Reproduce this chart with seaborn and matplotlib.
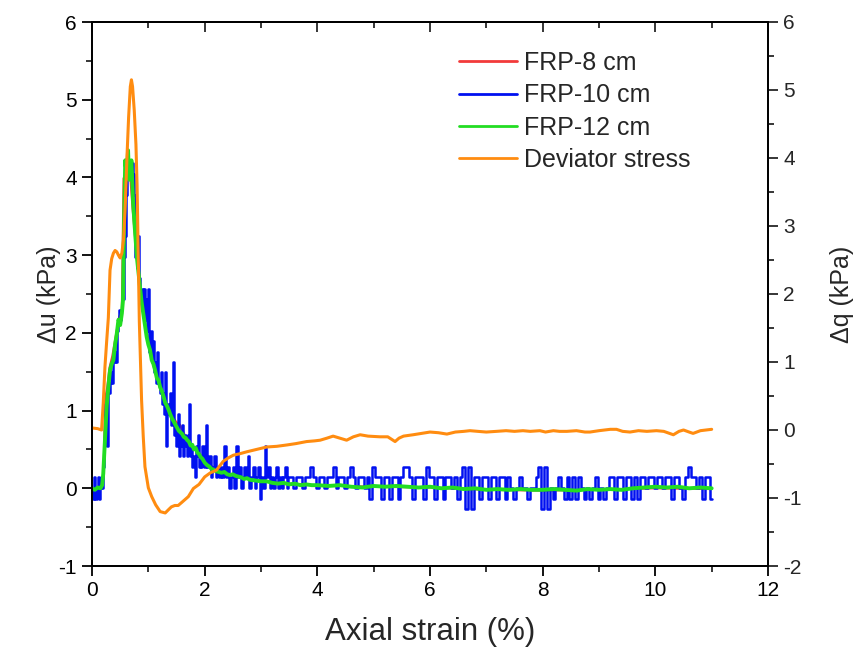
import matplotlib
matplotlib.use("Agg")
import matplotlib.pyplot as plt
import seaborn as sns
import numpy as np
from matplotlib.ticker import MultipleLocator

# ---------------- data ----------------
orange_strain = [0.00, 0.10, 0.17, 0.20, 0.23, 0.26, 0.29, 0.32, 0.35, 0.38, 0.41, 0.44, 0.47, 0.50,
                 0.53, 0.56, 0.59, 0.62, 0.65, 0.68, 0.70, 0.72, 0.75, 0.78, 0.80, 0.82, 0.84, 0.88,
                 0.91, 0.94, 1.00, 1.06, 1.13, 1.21, 1.30, 1.36, 1.41, 1.47, 1.53, 1.60, 1.71, 1.80,
                 1.90, 2.00, 2.10, 2.21, 2.33, 2.42, 2.51, 2.62, 2.75, 2.90, 3.10, 3.28, 3.46, 3.62,
                 3.81, 3.95, 4.05, 4.17, 4.28, 4.40, 4.52, 4.64, 4.76, 4.90, 5.11, 5.25, 5.38, 5.45,
                 5.53, 5.70, 5.85, 6.00, 6.15, 6.30, 6.45, 6.60, 6.71, 6.85, 7.00, 7.18, 7.35, 7.50,
                 7.65, 7.78, 7.95, 8.05, 8.19, 8.30, 8.43, 8.60, 8.75, 8.84, 9.00, 9.20, 9.31, 9.42,
                 9.55, 9.70, 9.85, 10.02, 10.15, 10.32, 10.42, 10.50, 10.60, 10.67, 10.80, 10.90, 11.00]
orange_dq = [0.03, 0.02, 0.00, 0.40, 0.93, 1.30, 1.65, 2.35, 2.52, 2.60, 2.64, 2.62, 2.57, 2.53,
             2.60, 2.80, 3.30, 4.00, 4.60, 5.05, 5.15, 5.05, 4.70, 4.20, 3.60, 2.60, 1.60, 0.44,
             -0.10, -0.54, -0.85, -0.98, -1.10, -1.20, -1.22, -1.17, -1.13, -1.11, -1.11, -1.06, -0.98, -0.86,
             -0.80, -0.69, -0.63, -0.59, -0.46, -0.41, -0.37, -0.35, -0.32, -0.29, -0.25, -0.24, -0.22, -0.20,
             -0.17, -0.16, -0.15, -0.12, -0.09, -0.12, -0.15, -0.10, -0.07, -0.09, -0.10, -0.10, -0.17, -0.12,
             -0.09, -0.07, -0.05, -0.03, -0.04, -0.06, -0.03, -0.02, -0.01, -0.02, -0.03, -0.02, -0.01, -0.02,
             -0.01, -0.02, -0.01, -0.03, -0.01, -0.02, -0.02, -0.01, -0.03, -0.03, -0.01, 0.01, 0.01, -0.02,
             -0.03, -0.01, -0.02, -0.01, -0.02, -0.07, -0.02, 0.00, -0.03, -0.05, -0.01, 0.00, 0.01]

green_strain = [0.00, 0.05, 0.10, 0.15, 0.18, 0.20, 0.23, 0.26, 0.29, 0.32, 0.35, 0.38, 0.41, 0.44,
                0.47, 0.50, 0.53, 0.55, 0.57, 0.59, 0.62, 0.64, 0.66, 0.68, 0.70, 0.73, 0.77, 0.80,
                0.82, 0.85, 0.88, 0.91, 0.94, 0.97, 1.00, 1.03, 1.06, 1.09, 1.12, 1.15, 1.18, 1.21,
                1.24, 1.27, 1.30, 1.33, 1.36, 1.39, 1.42, 1.45, 1.48, 1.51, 1.54, 1.57, 1.60, 1.63,
                1.66, 1.69, 1.72, 1.75, 1.78, 1.81, 1.84, 1.87, 1.90, 1.93, 1.96, 2.00, 2.04, 2.08,
                2.12, 2.16, 2.20, 2.25, 2.30, 2.35, 2.40, 2.45, 2.50, 2.55, 2.60, 2.65, 2.70, 2.75,
                2.80, 2.90, 3.00, 3.10, 3.20, 3.30, 3.40, 3.50, 3.60, 3.70, 3.80, 3.90, 4.00, 4.20,
                4.40, 4.60, 4.80, 5.00, 5.20, 5.40, 5.60, 5.80, 6.00, 6.20, 6.40, 6.60, 6.80, 7.00,
                7.20, 7.40, 7.60, 7.80, 8.00, 8.20, 8.40, 8.60, 8.80, 9.00, 9.20, 9.40, 9.60, 9.80,
                10.00, 10.20, 10.40, 10.60, 10.80, 11.00]
green_du = [0.00, -0.02, 0.01, 0.00, 0.04, 0.19, 0.62, 1.05, 1.30, 1.52, 1.60, 1.65, 1.85, 1.99,
            2.17, 2.10, 2.25, 2.42, 3.45, 4.22, 4.00, 4.35, 3.97, 4.10, 4.22, 3.67, 3.24, 2.95,
            2.81, 2.60, 2.40, 2.25, 2.10, 1.95, 1.85, 1.78, 1.65, 1.60, 1.52, 1.42, 1.39, 1.30,
            1.25, 1.18, 1.10, 1.06, 1.01, 0.95, 0.90, 0.86, 0.82, 0.78, 0.74, 0.72, 0.70, 0.66,
            0.65, 0.62, 0.60, 0.55, 0.56, 0.50, 0.52, 0.46, 0.44, 0.40, 0.38, 0.33, 0.30, 0.28,
            0.25, 0.24, 0.22, 0.21, 0.20, 0.21, 0.18, 0.17, 0.18, 0.16, 0.15, 0.14, 0.12, 0.13,
            0.11, 0.10, 0.09, 0.09, 0.07, 0.06, 0.07, 0.05, 0.06, 0.04, 0.05, 0.04, 0.04, 0.03,
            0.04, 0.02, 0.01, 0.03, 0.02, 0.03, 0.02, 0.01, 0.02, 0.00, 0.01, -0.01, 0.00, -0.02,
            -0.01, -0.02, -0.01, -0.02, -0.02, -0.01, -0.02, -0.03, -0.01, -0.02, -0.01, -0.02, 0.00, 0.01,
            0.02, 0.01, 0.02, 0.00, 0.01, 0.00]

red_strain = [0.00, 0.10, 0.18, 0.21, 0.23, 0.27, 0.31, 0.36, 0.42, 0.48, 0.53, 0.56, 0.60, 0.64,
              0.68, 0.72, 0.78, 0.85, 0.92, 1.00, 1.10, 1.20, 1.30, 1.40, 1.50, 1.56, 1.65, 1.75,
              1.85, 2.00, 2.20, 2.40, 2.60, 2.80, 3.00, 3.50, 4.00, 5.00, 6.00, 7.00, 8.00, 9.00,
              10.00, 11.00]
red_du = [0.00, 0.00, 0.02, 0.30, 1.14, 1.30, 1.55, 1.70, 1.95, 2.20, 2.30, 3.99, 4.00, 4.20,
          4.00, 3.60, 3.10, 2.55, 2.20, 1.90, 1.55, 1.30, 1.10, 0.95, 0.85, 0.82, 0.68, 0.57,
          0.50, 0.36, 0.24, 0.19, 0.15, 0.12, 0.09, 0.06, 0.04, 0.02, 0.01, -0.02, -0.03, -0.02,
          0.00, -0.01]

blue_strain = [0.00, 0.03, 0.05, 0.07, 0.09, 0.11, 0.13, 0.15, 0.17, 0.19, 0.21, 0.22, 0.24, 0.26,
               0.28, 0.30, 0.33, 0.35, 0.37, 0.39, 0.41, 0.43, 0.45, 0.47, 0.49, 0.51, 0.53, 0.55,
               0.57, 0.59, 0.61, 0.63, 0.66, 0.68, 0.71, 0.73, 0.75, 0.77, 0.79, 0.81, 0.83, 0.85,
               0.87, 0.89, 0.91, 0.93, 0.95, 0.97, 0.99, 1.01, 1.03, 1.05, 1.07, 1.09, 1.11, 1.13,
               1.15, 1.17, 1.19, 1.21, 1.23, 1.25, 1.27, 1.29, 1.31, 1.33, 1.35, 1.37, 1.39, 1.41,
               1.43, 1.45, 1.47, 1.49, 1.51, 1.53, 1.55, 1.57, 1.59, 1.61, 1.63, 1.65, 1.67, 1.69,
               1.71, 1.73, 1.75, 1.77, 1.79, 1.81, 1.83, 1.85, 1.87, 1.89, 1.91, 1.93, 1.95, 1.97,
               2.00, 2.03, 2.06, 2.09, 2.12, 2.15, 2.18, 2.21, 2.24, 2.27, 2.30, 2.33, 2.36, 2.39,
               2.42, 2.45, 2.48, 2.51, 2.54, 2.57, 2.60, 2.63, 2.66, 2.69, 2.72, 2.75, 2.78, 2.81,
               2.84, 2.87, 2.90, 2.93, 2.96, 2.99, 3.02, 3.05, 3.08, 3.11, 3.14, 3.17, 3.20, 3.23,
               3.26, 3.29, 3.32, 3.35, 3.38, 3.41, 3.44, 3.47, 3.50,
               3.55, 3.60, 3.65, 3.70, 3.75, 3.80, 3.85, 3.90, 3.95, 4.00,
               4.05, 4.10, 4.15, 4.20, 4.25, 4.30, 4.35, 4.40, 4.45, 4.50,
               4.55, 4.60, 4.65, 4.70, 4.75, 4.80, 4.85, 4.90, 4.95, 5.00,
               5.05, 5.10, 5.15, 5.20, 5.25, 5.30, 5.35, 5.40, 5.45, 5.50,
               5.55, 5.60, 5.65, 5.70, 5.75, 5.80, 5.85, 5.90, 5.95, 6.00,
               6.05, 6.10, 6.15, 6.20, 6.25, 6.30, 6.35, 6.40, 6.45, 6.50,
               6.55, 6.60, 6.65, 6.70, 6.75, 6.80, 6.85, 6.90, 6.95, 7.00,
               7.05, 7.10, 7.15, 7.20, 7.25, 7.30, 7.35, 7.40, 7.45, 7.50,
               7.55, 7.60, 7.65, 7.70, 7.75, 7.80, 7.85, 7.90, 7.95, 8.00,
               8.05, 8.10, 8.15, 8.20, 8.25, 8.30, 8.35, 8.40, 8.45, 8.50,
               8.55, 8.60, 8.65, 8.70, 8.75, 8.80, 8.85, 8.90, 8.95, 9.00,
               9.05, 9.10, 9.15, 9.20, 9.25, 9.30, 9.35, 9.40, 9.45, 9.50,
               9.55, 9.60, 9.65, 9.70, 9.75, 9.80, 9.85, 9.90, 9.95, 10.00,
               10.05, 10.10, 10.15, 10.20, 10.25, 10.30, 10.35, 10.40, 10.45, 10.50,
               10.55, 10.60, 10.65, 10.70, 10.75, 10.80, 10.85, 10.90, 10.95, 11.00]
blue_du = [0.00, -0.14, 0.14, -0.14, 0.00, 0.14, -0.14, 0.00, 0.14, 0.00, 0.27, 0.54, 1.08, 0.81,
           0.54, 1.22, 1.35, 1.49, 1.35, 1.62, 1.76, 1.62, 2.03, 2.16, 2.30, 2.16, 2.30, 2.43,
           2.97, 3.24, 3.78, 4.19, 4.05, 4.19, 4.19, 4.05, 3.78, 2.97, 3.24, 2.84, 3.24, 2.70,
           2.43, 2.57, 2.30, 2.57, 2.16, 2.43, 2.03, 2.57, 1.76, 2.03, 1.62, 1.89, 1.49, 1.62,
           1.35, 1.76, 1.35, 1.22, 1.49, 1.08, 1.22, 0.95, 1.49, 0.54, 1.08, 0.95, 1.22, 0.81,
           0.95, 1.62, 0.68, 0.81, 0.54, 0.95, 0.41, 0.68, 0.54, 0.81, 0.41, 0.68, 0.54, 0.41,
           0.68, 1.08, 0.41, 0.54, 0.27, 0.41, 0.14, 0.54, 0.41, 0.68, 0.27, 0.41, 0.27, 0.54,
           0.27, 0.81, 0.27, 0.41, 0.14, 0.27, 0.41, 0.14, 0.27, 0.14, 0.27, 0.14, 0.54, 0.14,
           0.27, 0.00, 0.14, 0.27, 0.00, 0.54, 0.14, 0.27, 0.00, 0.14, 0.27, 0.14, 0.41, 0.00,
           0.14, 0.27, 0.00, 0.14, 0.27, -0.14, 0.14, 0.00, 0.54, 0.14, 0.27, 0.00, 0.14, 0.00,
           0.14, 0.27, 0.00, 0.14, 0.00, 0.14, 0.27, 0.00, 0.14,
           0.14, 0.00, 0.14, 0.14, 0.00, 0.14, 0.14, 0.27, 0.14, 0.00,
           0.14, 0.14, 0.00, 0.14, 0.14, 0.27, 0.00, 0.14, 0.14, 0.00,
           0.14, 0.27, 0.14, 0.00, 0.14, 0.14, 0.00, 0.14, -0.14, 0.27,
           0.14, 0.14, -0.14, 0.14, 0.14, -0.14, 0.14, 0.14, -0.14, 0.14,
           0.27, 0.27, 0.14, -0.14, 0.14, 0.14, 0.14, -0.14, 0.27, 0.14,
           0.14, -0.14, 0.14, 0.14, -0.14, 0.14, 0.14, 0.00, 0.14, -0.14,
           0.14, 0.27, -0.27, 0.27, -0.27, 0.14, 0.14, -0.14, 0.14, 0.14,
           -0.14, 0.14, 0.14, -0.14, 0.14, 0.14, -0.14, 0.14, 0.00, -0.14,
           0.00, 0.14, 0.00, 0.00, -0.14, 0.00, 0.00, 0.14, 0.27, -0.27,
           0.27, -0.27, 0.00, -0.14, 0.00, 0.14, 0.00, -0.14, 0.14, -0.14,
           0.14, -0.14, 0.14, 0.00, -0.14, 0.00, -0.14, 0.00, 0.14, -0.14,
           0.00, -0.14, 0.00, 0.14, 0.14, -0.14, 0.14, 0.14, -0.14, 0.14,
           0.14, -0.14, 0.14, -0.14, 0.14, 0.14, 0.00, 0.14, 0.14, 0.00,
           0.14, 0.14, 0.00, 0.14, 0.14, -0.14, 0.14, 0.14, 0.00, -0.14,
           0.14, 0.27, 0.14, 0.14, 0.00, 0.14, -0.14, 0.14, 0.14, -0.14]

series_labels = ["FRP-8 cm", "FRP-10 cm", "FRP-12 cm", "Deviator stress"]
x_ticks = [0, 2, 4, 6, 8, 10, 12]
left_ticks = [-1, 0, 1, 2, 3, 4, 5, 6]
right_ticks = [-2, -1, 0, 1, 2, 3, 4, 5, 6]

# ---------------- style ----------------
sns.set_style("ticks")
plt.rcParams["font.family"] = ["Liberation Sans", "DejaVu Sans"]
plt.rcParams["axes.linewidth"] = 1.3
plt.rcParams["axes.unicode_minus"] = False

RED = "#F23A3A"
BLUE = "#0010F0"
GREEN = "#22DD22"
ORANGE = "#FF8C10"

fig = plt.figure(figsize=(8.54, 6.63), dpi=100)
ax = fig.add_axes([92 / 854, 1 - 566 / 663, (768 - 92) / 854, (566 - 22) / 663])
ax2 = ax.twinx()

sns.lineplot(x=red_strain, y=red_du, ax=ax, color=RED, lw=1.5, estimator=None, sort=False,
             label=series_labels[0], legend=False)
sns.lineplot(x=blue_strain, y=blue_du, ax=ax, color=BLUE, lw=1.8, estimator=None, sort=False,
             drawstyle="steps-mid", label=series_labels[1], legend=False)
sns.lineplot(x=green_strain, y=green_du, ax=ax, color=GREEN, lw=2.8, estimator=None, sort=False,
             label=series_labels[2], legend=False)
sns.lineplot(x=orange_strain, y=orange_dq, ax=ax2, color=ORANGE, lw=2.2, estimator=None, sort=False,
             label=series_labels[3], legend=False)

ax.set_xlim(0, 12)
ax.set_ylim(-1, 6)
ax2.set_ylim(-2, 6)
ax.set_xticks(x_ticks)
ax.set_yticks(left_ticks)
ax2.set_yticks(right_ticks)
ax.xaxis.set_minor_locator(MultipleLocator(1))
ax.yaxis.set_minor_locator(MultipleLocator(0.5))
ax2.yaxis.set_minor_locator(MultipleLocator(0.5))

for a in (ax, ax2):
    for s in a.spines.values():
        s.set_linewidth(1.3)
        s.set_color("black")

ax.tick_params(axis="both", which="major", direction="out", length=7, width=1.3, labelsize=15,
               colors="black", pad=4)
ax.tick_params(axis="both", which="minor", direction="out", length=4, width=1.3)
ax.tick_params(axis="y", left=True, right=False, which="both")
ax.tick_params(axis="x", bottom=True, top=False, which="both")
ax2.tick_params(axis="y", which="major", direction="out", length=7, width=1.3, labelsize=15, pad=4)
ax2.tick_params(axis="y", which="minor", direction="out", length=4, width=1.3)

top = ax.secondary_xaxis("top")
top.set_xticks(x_ticks)
top.xaxis.set_minor_locator(MultipleLocator(1))
top.tick_params(axis="x", which="major", direction="in", length=7, width=1.3, labeltop=False)
top.tick_params(axis="x", which="minor", direction="in", length=4, width=1.3)
top.spines["top"].set_linewidth(1.3)

ax.set_xlabel("Axial strain (%)", fontsize=22.5, labelpad=12)
ax.set_ylabel("Δu (kPa)", fontsize=18, labelpad=-2)
ax2.set_ylabel("Δq (kPa)", fontsize=18, labelpad=20)

h1, l1 = ax.get_legend_handles_labels()
h2, l2 = ax2.get_legend_handles_labels()
leg = ax2.legend(h1 + h2, l1 + l2, loc="upper left", bbox_to_anchor=(459 / 854, 0.923),
                 bbox_transform=fig.transFigure, frameon=False, fontsize=18, handlelength=2.3,
                 handletextpad=0.3, labelspacing=0.33, borderpad=0, borderaxespad=0)
for line in leg.get_lines():
    line.set_linewidth(2.0)

fig.savefig("out.png", dpi=100)
